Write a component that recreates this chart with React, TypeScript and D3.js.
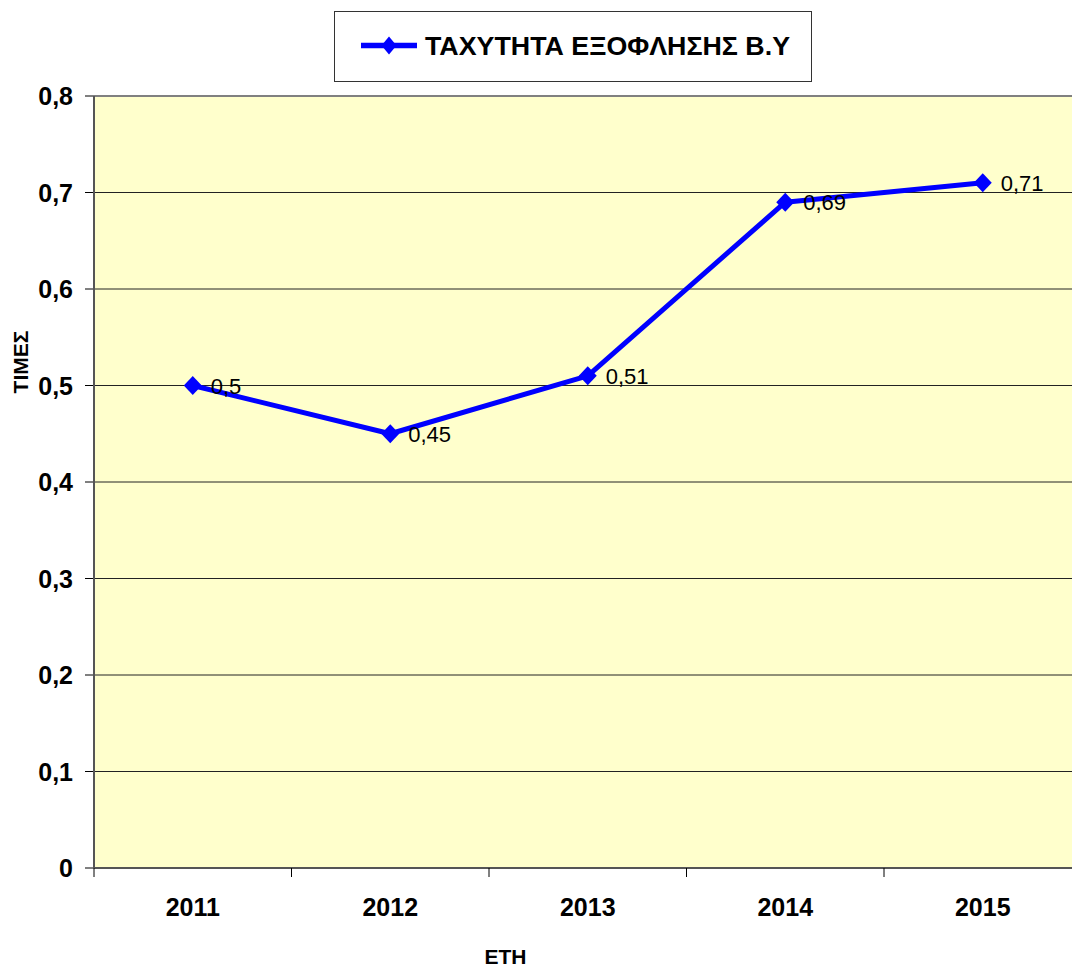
import React from "react";
import * as d3 from "d3";

const years = ["2011", "2012", "2013", "2014", "2015"];
const values = [0.5, 0.45, 0.51, 0.69, 0.71];
const yTicks = [0, 0.1, 0.2, 0.3, 0.4, 0.5, 0.6, 0.7, 0.8];
const seriesName = "ΤΑΧΥΤΗΤΑ ΕΞΟΦΛΗΣΗΣ Β.Υ";
const yTitle = "ΤΙΜΕΣ";
const xTitle = "ΕΤΗ";

const W = 1072, H = 968;
const L = 94, T = 96, B = 868, R = 1081.5;
const fmt = (v: number) => String(v).replace(".", ",");

export default function App() {
  const x = d3.scaleBand<string>().domain(years).range([L, R]).padding(0);
  const y = d3.scaleLinear().domain([0, 0.8]).range([B, T]);
  const cx = (c: string) => (x(c) as number) + x.bandwidth() / 2;
  const line = d3.line<number>().x((_, i) => cx(years[i])).y((d) => y(d));
  const diamond = (px: number, py: number, rx: number, ry: number) =>
    `M${px},${py - ry}L${px + rx},${py}L${px},${py + ry}L${px - rx},${py}Z`;
  const font = "Arial, 'Liberation Sans', sans-serif";
  const boundaries = d3.range(years.length + 1).map((i) => L + i * x.bandwidth());
  return (
    <svg width={W} height={H} style={{ position: "absolute", left: 0, top: 0, background: "#fff" }} fontFamily={font}>
      <rect x={0} y={0} width={W} height={H} fill="#fff" />
      <rect x={L} y={T} width={R - L} height={B - T} fill="#FFFFCC" />
      {yTicks.map((t) => (
        <g key={t}>
          {t > 0 && <line x1={L} x2={R} y1={y(t)} y2={y(t)} stroke={t === 0.8 ? "#808080" : "#222"} strokeWidth={t === 0.8 ? 2 : 1} />}
          <line x1={L - 9} x2={L} y1={y(t)} y2={y(t)} stroke="#000" strokeWidth={1} />
          <text x={73} y={y(t) + 9} textAnchor="end" fontSize={25} fontWeight="bold" fill="#000">{fmt(t)}</text>
        </g>
      ))}
      <line x1={L} x2={L} y1={T} y2={B} stroke="#555" strokeWidth={2} />
      <line x1={L} x2={R} y1={B} y2={B} stroke="#555" strokeWidth={2} />
      {boundaries.map((b, i) => (
        <line key={i} x1={b} x2={b} y1={B} y2={B + 9} stroke="#000" strokeWidth={1} />
      ))}
      {years.map((c) => (
        <text key={c} x={cx(c)} y={916} textAnchor="middle" fontSize={25} fontWeight="bold" fill="#000">{c}</text>
      ))}
      <path d={line(values) || ""} fill="none" stroke="#0000FF" strokeWidth={5} strokeLinejoin="round" />
      {values.map((v, i) => (
        <g key={i}>
          <path d={diamond(cx(years[i]), y(v), 9, 9.5)} fill="#0000FF" />
          <text x={cx(years[i]) + 18} y={y(v) + 8} fontSize={22} fill="#000">{fmt(v)}</text>
        </g>
      ))}
      <text transform={`translate(28,362) rotate(-90)`} textAnchor="middle" fontSize={21} fontWeight="bold" fill="#000">{yTitle}</text>
      <text x={505.5} y={964} textAnchor="middle" fontSize={21} fontWeight="bold" fill="#000">{xTitle}</text>
      <rect x={334.5} y={11.5} width={477} height={70} fill="#fff" stroke="#333" strokeWidth={1} />
      <line x1={361} x2={417} y1={45.5} y2={45.5} stroke="#0000FF" strokeWidth={5.5} />
      <path d={diamond(389, 45.5, 7.5, 9)} fill="#0000FF" />
      <text x={425} y={55} fontSize={25} fontWeight="bold" fill="#000" textLength={365} lengthAdjust="spacingAndGlyphs">{seriesName}</text>
    </svg>
  );
}
